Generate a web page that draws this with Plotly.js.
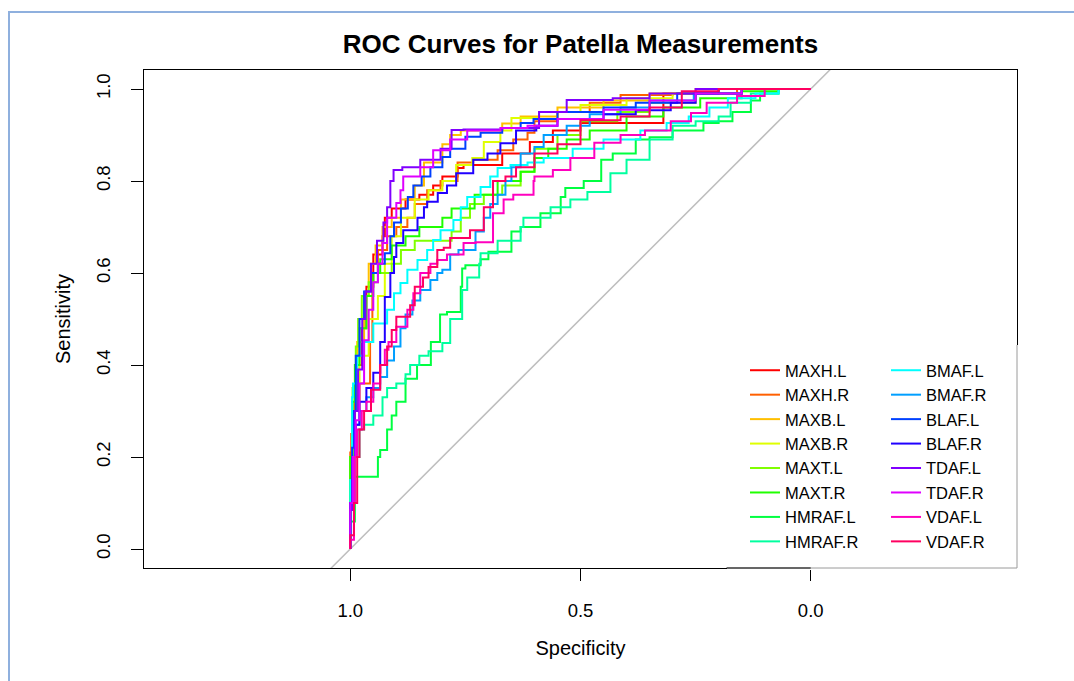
<!DOCTYPE html>
<html>
<head>
<meta charset="utf-8">
<script src="https://cdn.plot.ly/plotly-3.0.1.min.js"></script>
<style>
  html, body { margin: 0; padding: 0; background: #ffffff; }
  #chart { width: 1074px; height: 681px; }
</style>
</head>
<body>
<div id="chart"></div>
<script>
// ---- Data (specificity / sensitivity) ----
var seriesNames = ["MAXH.L","MAXH.R","MAXB.L","MAXB.R","MAXT.L","MAXT.R","HMRAF.L","HMRAF.R",
                   "BMAF.L","BMAF.R","BLAF.L","BLAF.R","TDAF.L","TDAF.R","VDAF.L","VDAF.R"];
var seriesColors = ["#FF0000","#FF6000","#FFBF00","#DFFF00","#80FF00","#20FF00","#00FF40","#00FF9F",
                    "#00FFFF","#009FFF","#0040FF","#2000FF","#8000FF","#DF00FF","#FF00BF","#FF0060"];

var spec_MAXH_L = [1,0.996,0.99,0.985,0.975,0.965,0.95,0.945,0.93,0.925,0.91,0.88,0.85,0.82,0.8,0.767,0.754,0.67,0.61,0.56,0.5,0.463,0.32,0.32,0.2,0.2,0];
var sens_MAXH_L = [0,0.1,0.2,0.3,0.4,0.48,0.57,0.64,0.64,0.68,0.72,0.74,0.76,0.77,0.79,0.81,0.828,0.835,0.86,0.885,0.91,0.926,0.926,0.99,0.99,1,1];

var spec_MAXH_R = [1,0.998,0.99,0.98,0.957,0.952,0.952,0.94,0.92,0.9,0.876,0.86,0.833,0.804,0.767,0.733,0.68,0.646,0.615,0.6,0.55,0.48,0.413,0.3,0.16,0.08,0];
var sens_MAXH_R = [0,0.21,0.25,0.32,0.36,0.45,0.556,0.6,0.65,0.68,0.70,0.72,0.75,0.78,0.80,0.84,0.846,0.867,0.89,0.905,0.93,0.95,0.97,0.987,0.99,1,1];

var spec_MAXB_L = [1,0.995,0.985,0.97,0.96,0.945,0.93,0.91,0.89,0.86,0.84,0.8,0.783,0.76,0.73,0.67,0.63,0.55,0.45,0.35,0.25,0.15,0];
var sens_MAXB_L = [0,0.15,0.3,0.45,0.55,0.62,0.66,0.70,0.72,0.76,0.79,0.84,0.88,0.90,0.91,0.91,0.925,0.94,0.96,0.975,0.99,1,1];

var spec_MAXB_R = [1,0.995,0.98,0.96,0.94,0.925,0.91,0.89,0.86,0.83,0.8,0.77,0.735,0.71,0.674,0.65,0.64,0.59,0.5,0.4,0.3,0.2,0.1,0];
var sens_MAXB_R = [0,0.15,0.3,0.42,0.5,0.55,0.62,0.68,0.72,0.76,0.78,0.8,0.835,0.85,0.885,0.91,0.937,0.937,0.95,0.965,0.98,0.99,1,1];

var spec_MAXT_L = [1,0.995,0.988,0.983,0.975,0.96,0.94,0.91,0.89,0.86,0.82,0.78,0.76,0.74,0.71,0.67,0.63,0.6,0.55,0.5,0.42,0.35,0.25,0.15,0.05,0];
var sens_MAXT_L = [0,0.2,0.35,0.44,0.5,0.55,0.58,0.6,0.62,0.65,0.67,0.67,0.69,0.72,0.75,0.77,0.79,0.82,0.87,0.9,0.93,0.95,0.97,0.99,1,1];

var spec_MAXT_R = [1,0.995,0.99,0.98,0.965,0.95,0.935,0.91,0.88,0.85,0.8,0.78,0.73,0.68,0.63,0.6,0.57,0.53,0.48,0.4,0.32,0.24,0.15,0.07,0];
var sens_MAXT_R = [0,0.2,0.32,0.4,0.48,0.55,0.6,0.63,0.66,0.68,0.7,0.72,0.74,0.77,0.8,0.82,0.85,0.87,0.89,0.91,0.94,0.96,0.98,0.995,1];

var spec_HMRAF_L = [1,0.99,0.98,0.94,0.935,0.92,0.91,0.9,0.88,0.855,0.825,0.805,0.79,0.76,0.757,0.75,0.717,0.7,0.65,0.63,0.587,0.543,0.533,0.493,0.455,0.43,0.38,0.35,0.3,0.233,0.2,0.17,0.13,0.11,0.07,0];
var sens_HMRAF_L = [0,0.06,0.157,0.157,0.2,0.215,0.26,0.29,0.32,0.37,0.4,0.45,0.51,0.515,0.57,0.61,0.617,0.63,0.646,0.69,0.70,0.73,0.765,0.785,0.80,0.846,0.86,0.89,0.895,0.91,0.926,0.93,0.95,0.975,0.99,1];

var spec_HMRAF_R = [1,0.99,0.98,0.97,0.95,0.93,0.92,0.9,0.88,0.87,0.85,0.83,0.8,0.783,0.757,0.746,0.72,0.717,0.68,0.63,0.624,0.565,0.522,0.485,0.435,0.4,0.35,0.3,0.25,0.2,0.174,0.13,0.07,0];
var sens_HMRAF_R = [0,0.1,0.2,0.26,0.27,0.29,0.33,0.35,0.36,0.38,0.40,0.42,0.43,0.448,0.5,0.563,0.59,0.62,0.643,0.67,0.70,0.72,0.743,0.76,0.776,0.817,0.846,0.89,0.92,0.93,0.94,0.97,0.99,1];

var spec_BMAF_L = [1,0.996,0.994,0.985,0.97,0.95,0.92,0.905,0.891,0.876,0.854,0.833,0.82,0.804,0.776,0.76,0.746,0.717,0.696,0.68,0.652,0.615,0.58,0.517,0.45,0.37,0.313,0.265,0.22,0.18,0.12,0.07,0];
var sens_BMAF_L = [0,0.15,0.33,0.36,0.42,0.45,0.49,0.52,0.556,0.578,0.607,0.628,0.65,0.672,0.693,0.715,0.743,0.765,0.787,0.81,0.828,0.835,0.84,0.85,0.87,0.89,0.91,0.926,0.94,0.96,0.98,0.99,1];

var spec_BMAF_R = [1,0.994,0.988,0.98,0.965,0.95,0.935,0.92,0.905,0.891,0.88,0.865,0.848,0.826,0.811,0.8,0.783,0.765,0.728,0.71,0.696,0.68,0.663,0.65,0.63,0.6,0.58,0.53,0.48,0.413,0.35,0.254,0.15,0];
var sens_BMAF_R = [0,0.1,0.2,0.27,0.3,0.33,0.35,0.374,0.41,0.44,0.48,0.51,0.54,0.563,0.585,0.6,0.607,0.64,0.65,0.69,0.72,0.75,0.77,0.8,0.83,0.86,0.874,0.9,0.92,0.945,0.96,0.975,0.99,1];

var spec_BLAF_L = [1,0.996,0.992,0.988,0.98,0.97,0.955,0.94,0.925,0.913,0.905,0.89,0.875,0.863,0.845,0.826,0.8,0.783,0.75,0.717,0.67,0.63,0.602,0.55,0.45,0.38,0.29,0.2,0.12,0];
var sens_BLAF_L = [0,0.1,0.22,0.3,0.42,0.5,0.56,0.6,0.62,0.643,0.68,0.71,0.74,0.765,0.79,0.81,0.83,0.852,0.87,0.896,0.905,0.915,0.926,0.935,0.95,0.96,0.97,0.99,1,1];

var spec_BLAF_R = [1,0.994,0.988,0.98,0.965,0.95,0.935,0.925,0.913,0.905,0.9,0.885,0.854,0.84,0.833,0.81,0.79,0.77,0.733,0.702,0.674,0.64,0.596,0.55,0.45,0.38,0.304,0.25,0.15,0];
var sens_BLAF_R = [0,0.1,0.2,0.27,0.32,0.35,0.383,0.45,0.548,0.6,0.635,0.665,0.693,0.72,0.743,0.755,0.774,0.79,0.817,0.846,0.86,0.882,0.91,0.92,0.935,0.945,0.954,0.97,0.99,1];

var spec_TDAF_L = [1,0.996,0.99,0.983,0.974,0.967,0.955,0.942,0.928,0.92,0.913,0.906,0.887,0.848,0.804,0.78,0.754,0.67,0.59,0.53,0.43,0.35,0.25,0.15,0];
var sens_TDAF_L = [0,0.085,0.2,0.3,0.39,0.5,0.56,0.62,0.67,0.71,0.743,0.80,0.824,0.83,0.846,0.87,0.911,0.912,0.915,0.95,0.976,0.98,0.99,1,1];

var spec_TDAF_R = [1,0.994,0.988,0.98,0.97,0.96,0.95,0.94,0.93,0.92,0.9,0.891,0.885,0.848,0.82,0.783,0.746,0.674,0.615,0.55,0.45,0.35,0.25,0.15,0];
var sens_TDAF_R = [0,0.1,0.2,0.28,0.36,0.454,0.52,0.58,0.62,0.665,0.72,0.752,0.78,0.81,0.83,0.867,0.89,0.91,0.915,0.92,0.935,0.955,0.975,0.99,1];

var spec_VDAF_L = [1,0.992,0.99,0.985,0.975,0.965,0.95,0.935,0.925,0.917,0.9,0.876,0.863,0.848,0.826,0.811,0.79,0.754,0.728,0.69,0.69,0.667,0.646,0.602,0.6,0.56,0.522,0.47,0.413,0.36,0.304,0.26,0.226,0.16,0.1,0];
var sens_VDAF_L = [0,0.02,0.1,0.2,0.26,0.3,0.32,0.36,0.4,0.433,0.45,0.483,0.52,0.556,0.6,0.62,0.628,0.64,0.665,0.667,0.70,0.73,0.76,0.77,0.80,0.81,0.824,0.85,0.883,0.9,0.91,0.93,0.948,0.97,0.985,1];

var spec_VDAF_R = [1,0.992,0.985,0.98,0.97,0.955,0.935,0.92,0.91,0.9,0.87,0.86,0.842,0.83,0.811,0.797,0.783,0.74,0.71,0.69,0.663,0.64,0.6,0.55,0.5,0.413,0.35,0.28,0.2,0.1,0];
var sens_VDAF_R = [0,0.03,0.1,0.2,0.26,0.3,0.346,0.4,0.44,0.476,0.505,0.53,0.57,0.59,0.613,0.65,0.655,0.676,0.693,0.743,0.80,0.81,0.83,0.86,0.88,0.932,0.94,0.96,0.995,1,1];

var xTickVals = [1, 0.5, 0];
var xTickText = ["1.0", "0.5", "0.0"];
var yTickVals = [0, 0.2, 0.4, 0.6, 0.8, 1];
var yTickText = ["0.0", "0.2", "0.4", "0.6", "0.8", "1.0"];

var specList = [spec_MAXH_L, spec_MAXH_R, spec_MAXB_L, spec_MAXB_R, spec_MAXT_L, spec_MAXT_R, spec_HMRAF_L, spec_HMRAF_R,
                spec_BMAF_L, spec_BMAF_R, spec_BLAF_L, spec_BLAF_R, spec_TDAF_L, spec_TDAF_R, spec_VDAF_L, spec_VDAF_R];
var sensList = [sens_MAXH_L, sens_MAXH_R, sens_MAXB_L, sens_MAXB_R, sens_MAXT_L, sens_MAXT_R, sens_HMRAF_L, sens_HMRAF_R,
                sens_BMAF_L, sens_BMAF_R, sens_BLAF_L, sens_BLAF_R, sens_TDAF_L, sens_TDAF_R, sens_VDAF_L, sens_VDAF_R];

// ---- Traces ----
var traces = [];
for (var i = 0; i < seriesNames.length; i++) {
  traces.push({
    type: "scatter",
    mode: "lines",
    x: specList[i],
    y: sensList[i],
    name: seriesNames[i],
    line: { color: seriesColors[i], width: 2, shape: "vh" },
    legend: i < 8 ? "legend" : "legend2",
    hoverinfo: "name"
  });
}

// ---- Layout geometry (pixels of the reference) ----
var L = 144, R = 1017, T = 70, B = 568, W = 1074, H = 681;
function px(p) { return (p - L) / (R - L); }
function py(p) { return (B - p) / (B - T); }

var fontFam = "Liberation Sans, Arial, Helvetica, sans-serif";
var legendFont = { family: fontFam, size: 16.5, color: "#000" };

var layout = {
  width: W, height: H,
  margin: { l: L, r: W - R, t: T, b: H - B, pad: 0 },
  paper_bgcolor: "#ffffff",
  plot_bgcolor: "#ffffff",
  showlegend: true,
  title: {
    text: "<b>ROC Curves for Patella Measurements</b>",
    font: { family: fontFam, size: 26, color: "#000" },
    x: 0.5, xref: "paper", xanchor: "center",
    y: 1 - 44 / H, yref: "container", yanchor: "middle"
  },
  xaxis: {
    range: [1.448, -0.448],
    tickmode: "array", tickvals: xTickVals, ticktext: xTickText,
    ticks: "outside", ticklen: 12, tickwidth: 1, tickcolor: "#000",
    ticklabelstandoff: 14,
    showgrid: false, zeroline: false,
    showline: true, mirror: true, linecolor: "#000", linewidth: 1,
    tickfont: { family: fontFam, size: 18.5, color: "#000" },
    title: { text: "Specificity", font: { family: fontFam, size: 20, color: "#000" }, standoff: 20 },
    fixedrange: true
  },
  yaxis: {
    range: [-0.0413, 1.0413],
    tickmode: "array", tickvals: yTickVals, ticktext: yTickText,
    ticks: "outside", ticklen: 12, tickwidth: 1, tickcolor: "#000",
    ticklabelstandoff: 14,
    tickangle: -90,
    showgrid: false, zeroline: false,
    showline: true, mirror: true, linecolor: "#000", linewidth: 1,
    tickfont: { family: fontFam, size: 18.5, color: "#000" },
    title: { text: "Sensitivity", font: { family: fontFam, size: 20, color: "#000" }, standoff: 16 },
    fixedrange: true
  },
  legend: {
    x: px(745), xanchor: "left", y: py(353), yanchor: "top",
    bgcolor: "rgba(0,0,0,0)", borderwidth: 0,
    font: legendFont, tracegroupgap: 0, itemclick: false, itemdoubleclick: false
  },
  legend2: {
    x: px(886), xanchor: "left", y: py(353), yanchor: "top",
    bgcolor: "rgba(0,0,0,0)", borderwidth: 0,
    font: legendFont, tracegroupgap: 0, itemclick: false, itemdoubleclick: false
  },
  shapes: [
    // chance diagonal
    { type: "line", xref: "x", yref: "y", x0: 1.5, y0: -0.5, x1: -0.5, y1: 1.5,
      line: { color: "#bebebe", width: 1.5 }, layer: "below" },
    // white legend panel
    { type: "rect", xref: "paper", yref: "paper", x0: px(727), x1: px(1019), y0: py(570), y1: py(345),
      fillcolor: "#ffffff", line: { width: 0 }, layer: "above" },
    { type: "line", xref: "paper", yref: "paper", x0: px(1017), x1: px(1017), y0: py(568), y1: py(345),
      line: { color: "#9a9a9a", width: 1 }, layer: "above" },
    { type: "line", xref: "paper", yref: "paper", x0: px(727), x1: px(1017), y0: py(568), y1: py(568),
      line: { color: "#9a9a9a", width: 1 }, layer: "above" },
    { type: "line", xref: "x", yref: "paper", x0: 0.183, x1: 0, y0: 0, y1: 0,
      line: { color: "#000", width: 1 }, layer: "above" },
    // outer page frame
    { type: "line", xref: "paper", yref: "paper", x0: px(9), x1: px(9), y0: py(11), y1: py(H + 2),
      line: { color: "#8fb0de", width: 2 }, layer: "above" },
    { type: "line", xref: "paper", yref: "paper", x0: px(8), x1: px(W + 2), y0: py(12), y1: py(12),
      line: { color: "#8fb0de", width: 2 }, layer: "above" }
  ]
};

Plotly.newPlot("chart", traces, layout, { displayModeBar: false, staticPlot: true });
</script>
</body>
</html>
